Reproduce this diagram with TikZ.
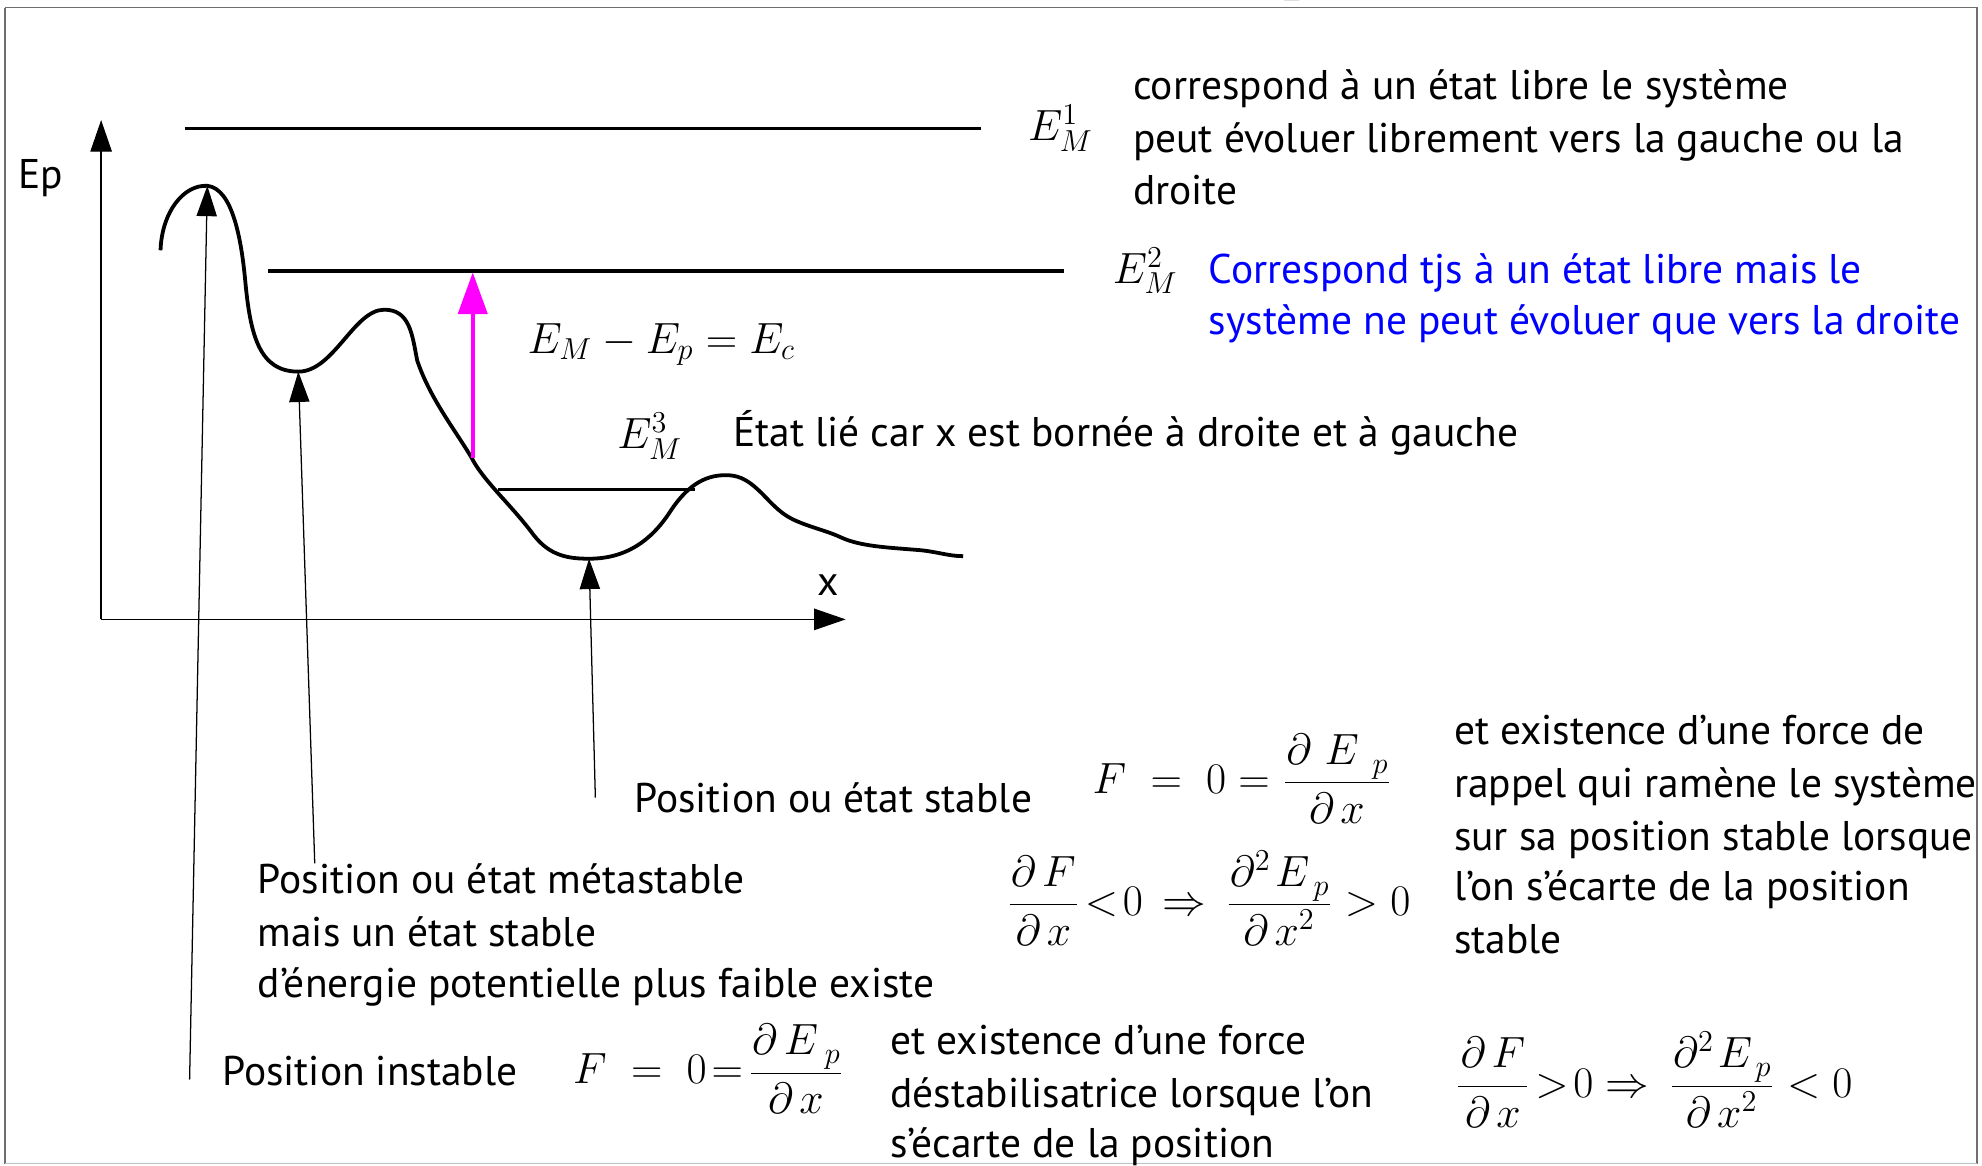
\documentclass[tikz,border=0pt]{standalone}
\usepackage{fontspec}
\setmainfont{PT Sans}
\usetikzlibrary{arrows.meta}
\definecolor{txtblue}{RGB}{0,0,255}
\definecolor{mag}{RGB}{255,0,255}
\definecolor{framegray}{RGB}{110,110,110}
\newcommand\fpart{\fontsize{16.5}{19}\selectfont}
\newcommand\myfr[3]{\frac{\makebox[#1][s]{\fpart#2}}{\makebox[#1][s]{\fpart#3}}}
\newcommand\dEp{\hspace{0.5pt}$\partial$\hfil$E$\hfil\raisebox{-3.5pt}{\fontsize{12}{14}\selectfont$p$}\hspace{0.5pt}}
\newcommand\ddEp{\hspace{0.5pt}$\partial^2$\hfil$E$\hfil\raisebox{-3.5pt}{\fontsize{12}{14}\selectfont$p$}\hspace{0.5pt}}
\newcommand\dx{\hfil$\partial$\hspace{2.5pt}$x$\hfil}
\newcommand\dxx{\hfil$\partial$\hspace{2.5pt}$x^2$\hfil}
\newcommand\dF{\hfil$\partial$\hspace{2.5pt}$F$\hfil}
\tikzset{
  txt/.style={font=\fontsize{16.4}{20}\selectfont, anchor=base west, inner sep=0pt},
  btxt/.style={txt, text=txtblue},
  emlab/.style={font=\fontsize{18}{22}\selectfont, anchor=base west, inner sep=0pt},
  eqn/.style={font=\fontsize{17}{20}\selectfont, anchor=base west, inner sep=0pt},
  level/.style={line width=1.4pt},
  curve/.style={line width=1.5pt, line join=round},
  axis/.style={line width=0.5pt, -{Triangle[length=12.5pt,width=8.5pt]}},
  pointer/.style={line width=0.5pt, -{Triangle[length=12pt,width=8pt]}},
  ecarrow/.style={mag, line width=1.6pt, -{Triangle[length=16.5pt,width=11.5pt]}},
}
\begin{document}
\begin{tikzpicture}[x=0.5pt,y=-0.5pt]
\useasboundingbox (0,0) rectangle (1568,922);
% frame
\draw[framegray, line width=0.7pt] (4,6) -- (1564,6) -- (1564,921) ;
\draw[framegray, line width=0.7pt] (4,6) -- (4,921);
\draw[black!25, line width=0.7pt] (4,920.5) -- (1564,920.5);
\fill (1016,0) arc[start angle=180,end angle=360,x radius=6,y radius=3] -- cycle;

% axes
\coordinate (O) at (80,490);
\coordinate (ytip) at (80,95);
\coordinate (xtip) at (669,490);
\draw[axis] (O) -- (ytip);
\draw[axis] (O) -- (xtip);
\node[txt] (Ep) at (14,149) {Ep};
\node[txt] (xlab) at (646,471) {x};

% energy levels
\coordinate (E1a) at (146,101.5);
\coordinate (E1b) at (776,101.5);
\coordinate (E2a) at (212,214.5);
\coordinate (E2b) at (842,214.5);
\coordinate (E3a) at (394,387);
\coordinate (E3b) at (550,387);
\draw[level] (E1a) -- (E1b);
\draw[level] (E2a) -- (E2b);
\draw[line width=1.1pt] (E3a) -- (E3b);

% potential curve
\coordinate (pk1) at (164,147);
\coordinate (mn1) at (236,294);
\coordinate (mn2) at (466,442);
\draw[curve] (127,198) .. controls (128,168) and (145,146) .. (pk1)
  .. controls (184,149) and (191,190) .. (194,222)
  .. controls (198,265) and (205,294) .. (mn1)
  .. controls (264,294) and (280,245) .. (304,245)
  .. controls (324,245) and (326,264) .. (330,285)
  .. controls (340,315) and (360,340) .. (373,362)
  .. controls (382,380) and (405,400) .. (422,423)
  .. controls (435,440) and (450,442) .. (mn2)
  .. controls (495,442) and (515,428) .. (530,405)
  .. controls (545,382) and (560,375) .. (577,376)
  .. controls (595,377) and (605,395) .. (618,405)
  .. controls (630,415) and (650,418) .. (665,425)
  .. controls (680,432) and (700,433) .. (725,435)
  .. controls (740,436) and (750,440) .. (762,440);

% magenta arrow
\coordinate (ecbot) at (374,362);
\coordinate (ectop) at (374,215.5);
\draw[ecarrow] (ecbot) -- (ectop);

% level labels
\node[emlab] (lab1) at (813,111) {$E_M^1$};
\node[emlab] (lab2) at (880,224) {$E_M^2$};
\node[emlab] (lab3) at (488,355) {$E_M^3$};
\node[emlab] (ec) at (417,279.5) {$E_M-E_p=E_c$};

% texts top
\node[txt] (t1a) at (896,79) {correspond à un état libre le système};
\node[txt] (t1b) at (896,121) {peut évoluer librement vers la gauche ou la};
\node[txt] (t1c) at (896,161.5) {droite};
\node[btxt] (t2a) at (956,224) {Correspond tjs à un état libre mais le};
\node[btxt] (t2b) at (956,265) {système ne peut évoluer que vers la droite};
\node[txt] (t3) at (580,353.5) {État lié car x est bornée à droite et à gauche};

% pointers
\coordinate (p1) at (150,854);
\coordinate (p2) at (249,683);
\coordinate (p3) at (471,631);
\draw[pointer] (p1) -- (pk1);
\draw[pointer] (p2) -- (mn1);
\draw[pointer] (p3) -- (mn2);

% bottom texts
\node[txt] (s1) at (501.5,643) {Position ou état stable};
\node[eqn] (f1) at (864,628) {$\displaystyle F\;=\;0=\myfr{41pt}{\dEp}{\dx}$};
\node[eqn] (f2) at (796,724.5) {$\displaystyle \myfr{26.6pt}{\dF}{\dx}\!<\!0\,\Rightarrow\,\myfr{40pt}{\ddEp}{\dxx}>0$};
\node[txt] (r1) at (1150,589) {et existence d’une force de};
\node[txt] (r2) at (1150,631) {rappel qui ramène le système};
\node[txt] (r3) at (1150,672.5) {sur sa position stable lorsque};
\node[txt] (r4) at (1150,712) {l’on s’écarte de la position};
\node[txt] (r5) at (1150,754) {stable};
\node[txt] (m1) at (203.5,706.5) {Position ou état métastable};
\node[txt] (m2) at (203.5,748.5) {mais un état stable};
\node[txt] (m3) at (203.5,789.5) {d’énergie potentielle plus faible existe};
\node[txt] (i1) at (175.5,859) {Position instable};
\node[eqn] (f3) at (453,857.5) {$\displaystyle F\;=\;0\!=\!\myfr{35.6pt}{\dEp}{\dx}$};
\node[txt] (d1) at (704,834) {et existence d’une force};
\node[txt] (d2) at (704,876.5) {déstabilisatrice lorsque l’on};
\node[txt] (d3) at (704,916) {s’écarte de la position};
\node[eqn] (f4) at (1151,868) {$\displaystyle \myfr{27.3pt}{\dF}{\dx}\!>\!0\Rightarrow\,\myfr{39.6pt}{\ddEp}{\dxx}<0$};
\end{tikzpicture}
\end{document}
